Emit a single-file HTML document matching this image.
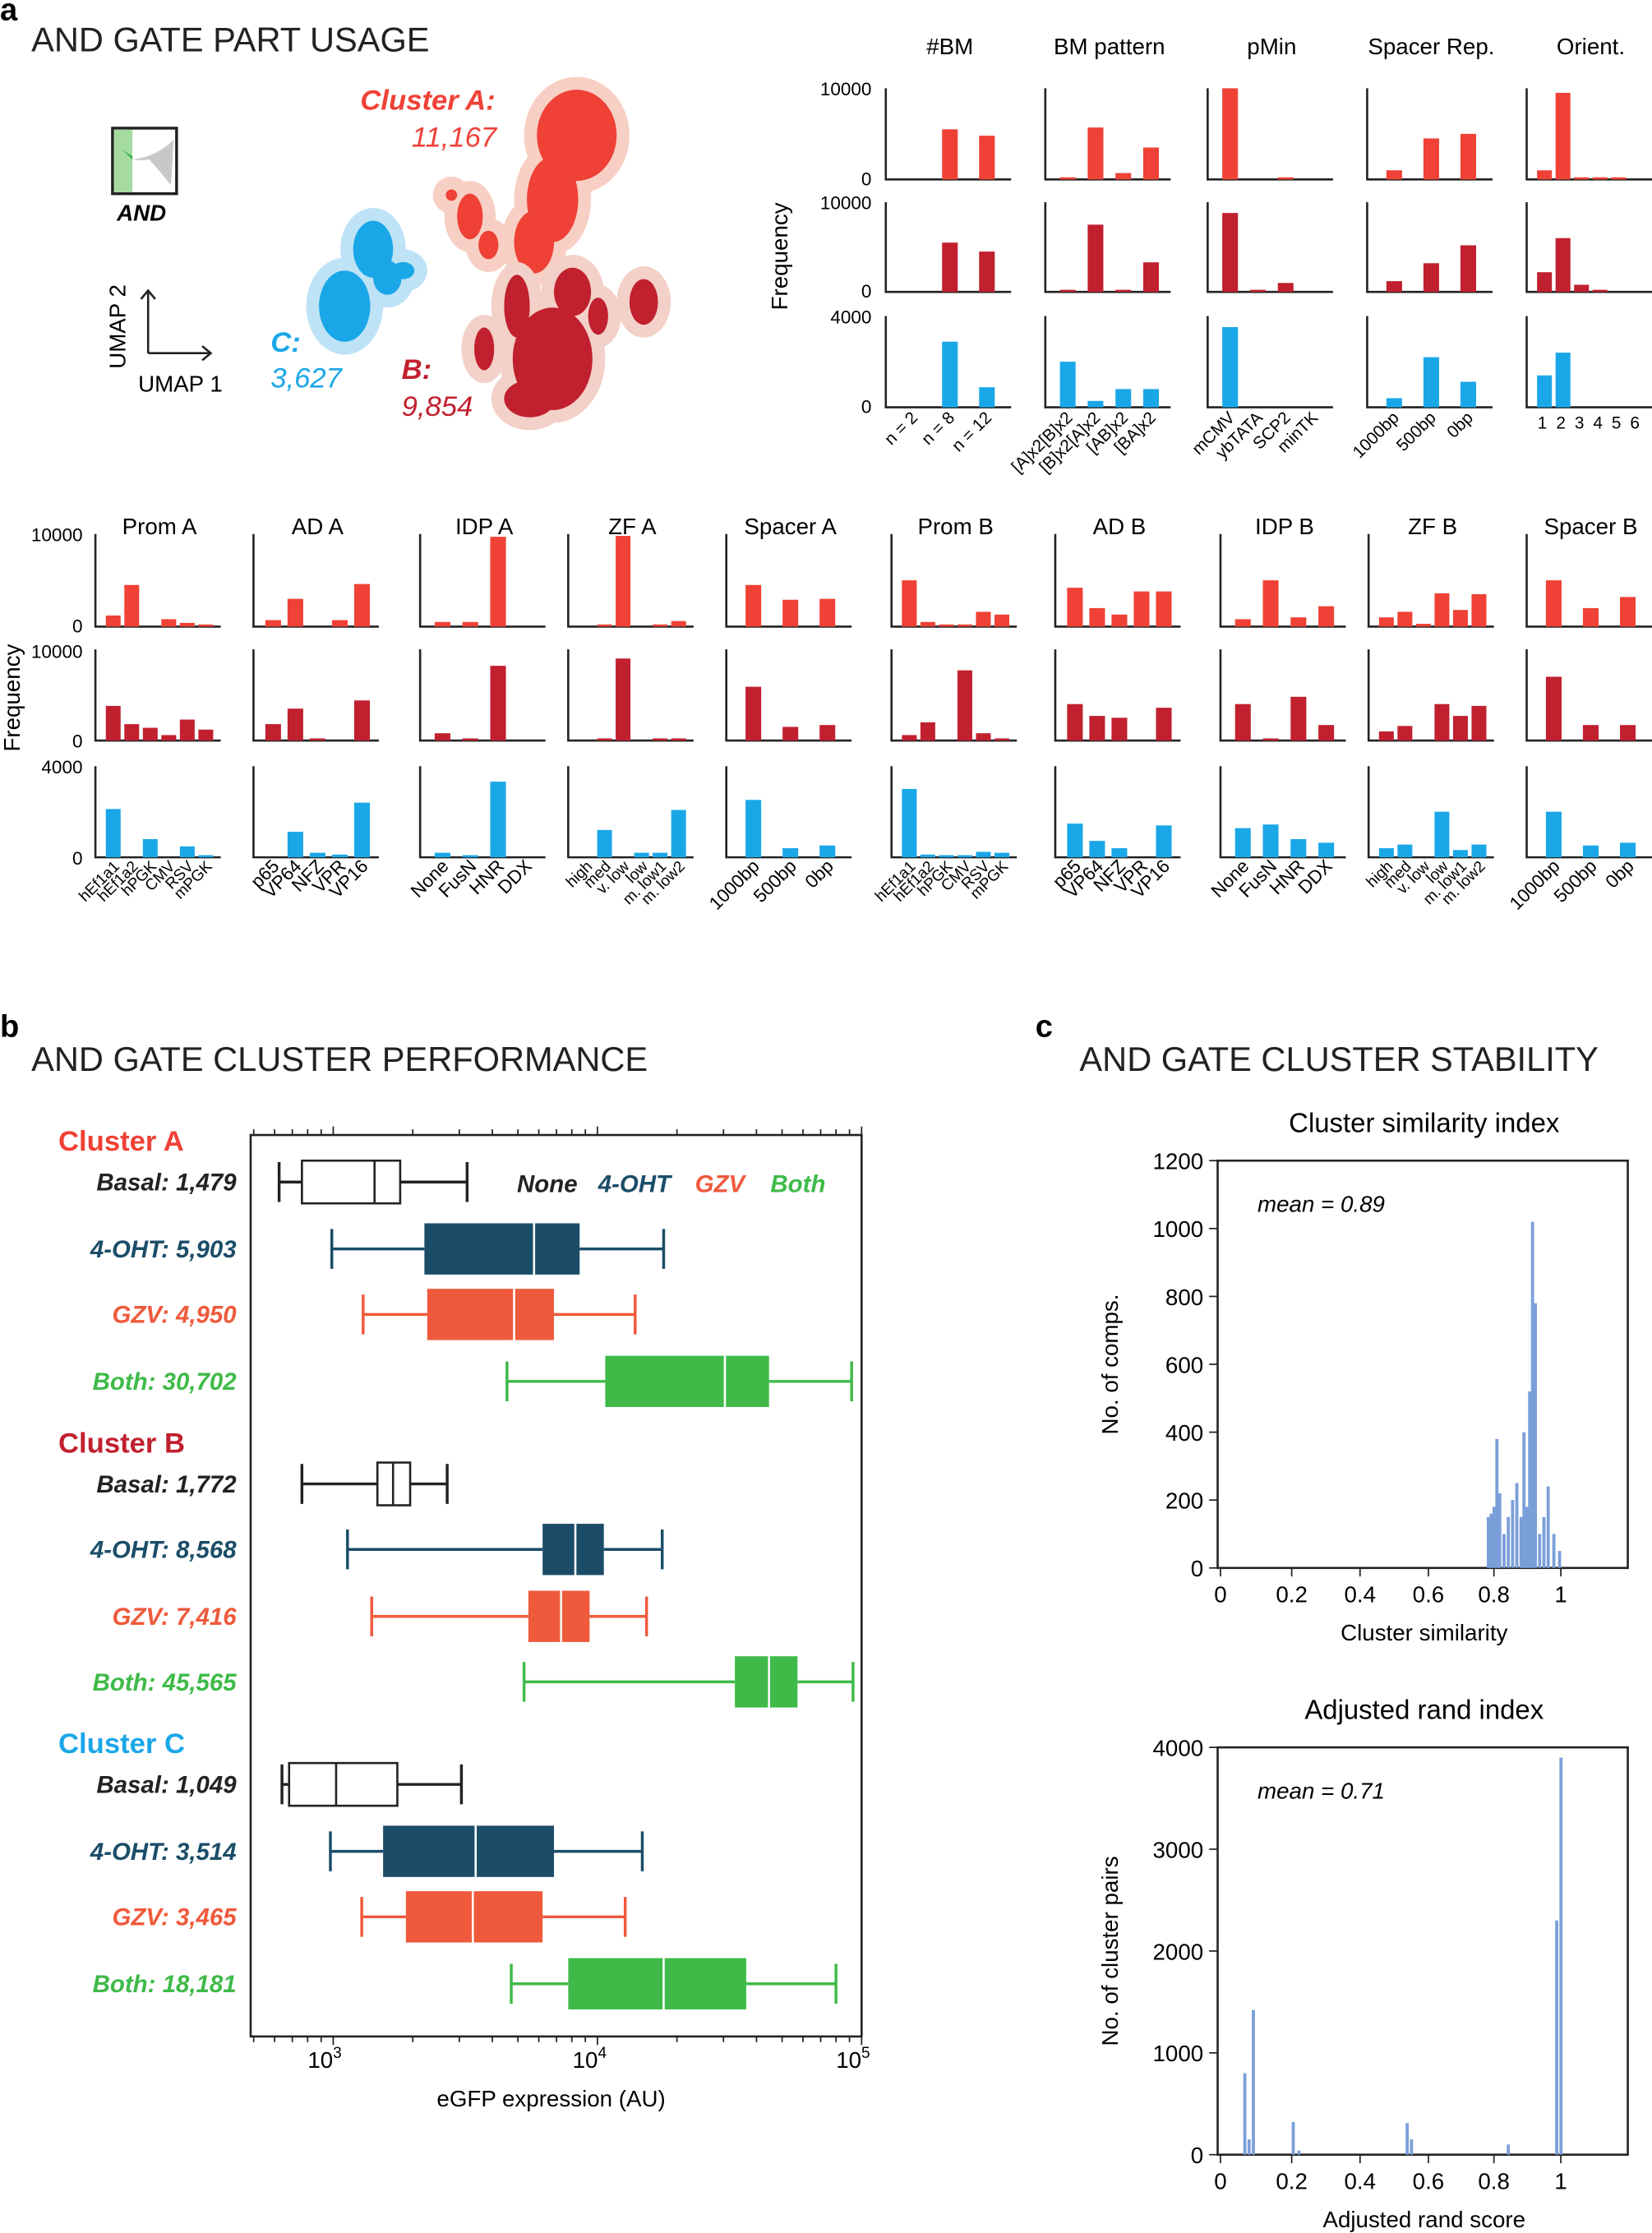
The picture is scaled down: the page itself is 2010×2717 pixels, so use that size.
<!DOCTYPE html>
<html><head><meta charset="utf-8"><style>
html,body{margin:0;padding:0;background:#fff}
svg{display:block}
text{font-family:"Liberation Sans",sans-serif}
</style></head><body>
<svg id="s" xmlns="http://www.w3.org/2000/svg" width="2010" height="2717" viewBox="0 0 1160 1568" preserveAspectRatio="none">
<rect width="1160" height="1568" fill="#fff"/>
<text x="0" y="14" font-size="22" font-weight="bold">a</text>
<text x="22" y="36" font-size="24" fill="#222">AND GATE PART USAGE</text>
<text x="0" y="728" font-size="22" font-weight="bold">b</text>
<text x="22" y="752" font-size="24" fill="#222">AND GATE CLUSTER PERFORMANCE</text>
<text x="727" y="728" font-size="22" font-weight="bold">c</text>
<text x="758" y="752" font-size="24" fill="#222">AND GATE CLUSTER STABILITY</text>
<rect x="79" y="90" width="45" height="46" fill="#fff" stroke="#222" stroke-width="2"/>
<rect x="80" y="91" width="13" height="44" fill="#a6dba0"/>
<path d="M93,112 Q110,110 122,98 L120,130 Q112,120 105,112 Q98,113 93,112Z" fill="#c8c8c8"/>
<path d="M86,105 L93,110 L93,112Z" fill="#2aa84a"/>
<text x="82" y="155" font-size="16" font-weight="bold" font-style="italic">AND</text>
<path d="M104,248 L104,204 M99,210 L104,204 L109,210 M104,248 L148,248 M142,243 L148,248 L142,253" stroke="#222" stroke-width="1.5" fill="none"/>
<text x="88" y="259" font-size="16" transform="rotate(-90 88 259)">UMAP 2</text>
<text x="97" y="275" font-size="16">UMAP 1</text>
<g id="umap"></g>
<text x="253" y="77" font-size="20" font-weight="bold" font-style="italic" fill="#ef4136">Cluster A:</text>
<text x="289" y="103" font-size="20" font-style="italic" fill="#ef4136">11,167</text>
<text x="190" y="247" font-size="20" font-weight="bold" font-style="italic" fill="#1aa7e8">C:</text>
<text x="190" y="272" font-size="20" font-style="italic" fill="#1aa7e8">3,627</text>
<text x="282" y="266" font-size="20" font-weight="bold" font-style="italic" fill="#c1202f">B:</text>
<text x="282" y="292" font-size="20" font-style="italic" fill="#c1202f">9,854</text>
<g id="g"></g>
</svg>
<script>
(function(){
var g=document.getElementById('g'),u=document.getElementById('umap');
var NS='http://www.w3.org/2000/svg';
function el(p,t,a,txt){var e=document.createElementNS(NS,t);for(var k in a)e.setAttribute(k,a[k]);if(txt!==undefined)e.textContent=txt;p.appendChild(e);return e;}
var RA='#ef4136',RB='#c1202f',CC='#1aa7e8';
function blobs(list,halo,col){list.forEach(function(b){el(u,'ellipse',{cx:b[0],cy:b[1],rx:b[2]+9,ry:b[3]+9,fill:halo});});
list.forEach(function(b){el(u,'ellipse',{cx:b[0],cy:b[1],rx:b[2],ry:b[3],fill:col});});}
blobs([[405,95,28,32],[388,140,18,30],[375,170,14,22],[330,152,9,16],[343,172,7,10],[317,137,4,4]],'#f8cfc4',RA);
blobs([[388,252,28,36],[363,215,9,22],[402,205,13,17],[452,212,10,16],[340,245,7,15],[372,280,18,13],[420,222,7,13]],'#f3d0c8',RB);
blobs([[242,215,18,25],[262,175,14,20],[272,195,10,12],[283,190,8,6]],'#bfe3f6',CC);
function panel(x,y0,base,vals,col,w){var W=w||90;el(g,'path',{d:'M'+x+','+y0+' L'+x+','+base+' L'+(x+W)+','+base,stroke:'#222','stroke-width':1.5,fill:'none'});
var n=vals.length,step=(W-10)/n,bw=Math.min(11,step*0.8);
vals.forEach(function(v,i){if(v<=0)return;var h=Math.max(1.5,v*(base-y0));el(g,'rect',{x:x+6+i*step+(step-bw)/2,y:base-h,width:bw,height:h,fill:col});});}
var cols=[RA,RB,CC];
var tp=[[622,'#BM',[[0,0.55,0.48],[0,0.55,0.45],[0,0.72,0.22]],['n = 2','n = 8','n = 12']],
[734,'BM pattern',[[0.01,0.57,0.07,0.35],[0.01,0.75,0.01,0.33],[0.5,0.07,0.2,0.2]],['[A]x2[B]x2','[B]x2[A]x2','[AB]x2','[BA]x2']],
[848,'pMin',[[1,0,0.02,0],[0.88,0.02,0.1,0],[0.88,0,0,0]],['mCMV','ybTATA','SCP2','minTK']],
[960,'Spacer Rep.',[[0.1,0.45,0.5],[0.12,0.32,0.52],[0.1,0.55,0.28]],['1000bp','500bp','0bp']],
[1072,'Orient.',[[0.1,0.95,0.02,0.02,0.01,0],[0.22,0.6,0.08,0.02,0,0],[0.35,0.6,0,0,0,0]],null]];
var trows=[[62,126],[142,205],[222,286]];
tp.forEach(function(p){el(g,'text',{x:p[0]+45,y:38,'font-size':16,'text-anchor':'middle'},p[1]);
p[2].forEach(function(v,r){panel(p[0],trows[r][0],trows[r][1],v,cols[r],88);});
if(p[3]){var n=p[3].length,step=78/n;p[3].forEach(function(l,i){var xx=p[0]+6+i*step+step/2+4;el(g,'text',{x:xx,y:294,'font-size':12,'text-anchor':'end',transform:'rotate(-45 '+xx+' 294)'},l);});}
else{['1','2','3','4','5','6'].forEach(function(l,i){el(g,'text',{x:p[0]+11+i*13,y:301,'font-size':12,'text-anchor':'middle'},l);});}});
[['10000',67],['0',130],['10000',147],['0',209],['4000',227],['0',290]].forEach(function(t){el(g,'text',{x:612,y:t[1],'font-size':13,'text-anchor':'end'},t[0]);});
el(g,'text',{x:553,y:180,'font-size':16,'text-anchor':'middle',transform:'rotate(-90 553 180)'},'Frequency');
var mid=[[67,'Prom A',[[0.12,0.45,0,0.08,0.04,0.02],[0.38,0.18,0.14,0.06,0.23,0.12],[0.53,0,0.2,0,0.12,0.02]],['hEf1a1','hEf1a2','hPGK','CMV','RSV','mPGK']],
[178,'AD A',[[0.07,0.3,0,0.07,0.46],[0.18,0.35,0.02,0,0.44],[0,0.28,0.05,0.03,0.6]],['p65','VP64','NFZ','VPR','VP16']],
[295,'IDP A',[[0.05,0.05,0.97,0],[0.08,0.02,0.82,0],[0.05,0.02,0.83,0]],['None','FusN','HNR','DDX']],
[399,'ZF A',[[0,0.02,0.98,0,0.02,0.06],[0,0.02,0.9,0,0.02,0.02],[0,0.3,0,0.05,0.05,0.52]],['high','med','v. low','low','m. low1','m. low2']],
[510,'Spacer A',[[0.45,0.29,0.3],[0.59,0.15,0.17],[0.63,0.1,0.13]],['1000bp','500bp','0bp']],
[626,'Prom B',[[0.5,0.05,0.02,0.02,0.16,0.13],[0.06,0.2,0,0.77,0.08,0.02],[0.75,0.03,0.02,0.02,0.06,0.05]],['hEf1a1','hEf1a2','hPGK','CMV','RSV','mPGK']],
[741,'AD B',[[0.42,0.2,0.13,0.38,0.38],[0.4,0.27,0.25,0,0.36],[0.37,0.18,0.1,0,0.35]],['p65','VP64','NFZ','VPR','VP16']],
[857,'IDP B',[[0.08,0.5,0.1,0.22],[0.4,0.02,0.48,0.17],[0.32,0.36,0.2,0.16]],['None','FusN','HNR','DDX']],
[961,'ZF B',[[0.1,0.16,0.03,0.36,0.18,0.35],[0.1,0.16,0,0.4,0.27,0.38],[0.1,0.14,0,0.5,0.08,0.14]],['high','med','v. low','low','m. low1','m. low2']],
[1072,'Spacer B',[[0.5,0.2,0.32],[0.7,0.17,0.17],[0.5,0.13,0.16]],['1000bp','500bp','0bp']]];
var mrows=[[375,440],[456,520],[538,602]];
mid.forEach(function(p){el(g,'text',{x:p[0]+45,y:375,'font-size':16,'text-anchor':'middle'},p[1]);
p[2].forEach(function(v,r){panel(p[0],mrows[r][0],mrows[r][1],v,cols[r],88);});
var n=p[3].length,step=78/n,fs=n>5?11:13;p[3].forEach(function(l,i){var xx=p[0]+6+i*step+step/2+5;el(g,'text',{x:xx,y:609,'font-size':fs,'text-anchor':'end',transform:'rotate(-45 '+xx+' 609)'},l);});});
[['10000',380],['0',444],['10000',462],['0',525],['4000',543],['0',607]].forEach(function(t){el(g,'text',{x:58,y:t[1],'font-size':13,'text-anchor':'end'},t[0]);});
el(g,'text',{x:14,y:490,'font-size':16,'text-anchor':'middle',transform:'rotate(-90 14 490)'},'Frequency');
el(g,'rect',{x:176,y:797,width:429,height:633,fill:'none',stroke:'#222','stroke-width':1.5});
function lx(v){return 234+(Math.log10(v)-3)*185.5;}
for(var d=2;d<=5;d++)for(var m=1;m<10;m++){var v=m*Math.pow(10,d);var x=lx(v);if(x<177||x>605)continue;var L=(m==1)?6:4;
el(g,'line',{x1:x,x2:x,y1:797,y2:797-L,stroke:'#222','stroke-width':1});el(g,'line',{x1:x,x2:x,y1:1430,y2:1430+L,stroke:'#222','stroke-width':1});}
[['3',234],['4',420],['5',605]].forEach(function(t){var e=el(g,'text',{x:t[1]-6,y:1452,'font-size':16,'text-anchor':'middle'},'10');el(e,'tspan',{dy:-7,'font-size':11},t[0]);});
el(g,'text',{x:387,y:1479,'font-size':16,'text-anchor':'middle'},'eGFP expression (AU)');
var TEAL='#1b4d68',OR='#ef5a3c',GR='#3fba49';
var bx=[[830,[196,212,263,281,328],'#222',0,'Basal: 1,479'],[877,[233,298,375,407,466],TEAL,1,'4-OHT: 5,903'],[923,[255,300,361,389,446],OR,1,'GZV: 4,950'],[970,[356,425,509,540,598],GR,1,'Both: 30,702'],
[1042,[212,265,276,288,314],'#222',0,'Basal: 1,772'],[1088,[244,381,404,424,465],TEAL,1,'4-OHT: 8,568'],[1135,[261,371,394,414,454],OR,1,'GZV: 7,416'],[1181,[368,516,540,560,599],GR,1,'Both: 45,565'],
[1253,[198,203,236,279,324],'#222',0,'Basal: 1,049'],[1300,[232,269,334,389,451],TEAL,1,'4-OHT: 3,514'],[1346,[254,285,332,381,439],OR,1,'GZV: 3,465'],[1393,[359,399,466,524,587],GR,1,'Both: 18,181']];
bx.forEach(function(b){var y=b[0],q=b[1],c=b[2],h=b[3]?18:15;
el(g,'path',{d:'M'+q[0]+','+y+' L'+q[1]+','+y+' M'+q[3]+','+y+' L'+q[4]+','+y+' M'+q[0]+','+(y-14)+' L'+q[0]+','+(y+14)+' M'+q[4]+','+(y-14)+' L'+q[4]+','+(y+14),stroke:c,'stroke-width':2,fill:'none'});
el(g,'rect',{x:q[1],y:y-h,width:q[3]-q[1],height:2*h,fill:b[3]?c:'#fff',stroke:b[3]?'none':c,'stroke-width':1.5});
el(g,'line',{x1:q[2],x2:q[2],y1:y-h,y2:y+h,stroke:b[3]?'#fff':c,'stroke-width':1.5});
el(g,'text',{x:166,y:y+6,'font-size':17,'font-weight':'bold','font-style':'italic','text-anchor':'end',fill:c},b[4]);});
[['Cluster A',808,RA],['Cluster B',1020,RB],['Cluster C',1231,CC]].forEach(function(t){el(g,'text',{x:41,y:t[1],'font-size':20,'font-weight':'bold',fill:t[2]},t[0]);});
[['None',363,'#222'],['4-OHT',420,TEAL],['GZV',488,OR],['Both',541,GR]].forEach(function(t){el(g,'text',{x:t[1],y:837,'font-size':17,'font-weight':'bold','font-style':'italic',fill:t[2]},t[0]);});
function hist(y0,y1,maxv,ticks,title,ytitle,xtitle,mean,bars){
el(g,'text',{x:1000,y:y0-20,'font-size':19,'text-anchor':'middle'},title);
el(g,'rect',{x:855,y:y0,width:288,height:y1-y0,fill:'none',stroke:'#222','stroke-width':1.5});
ticks.forEach(function(t){var y=y1-t/maxv*(y1-y0);el(g,'line',{x1:849,x2:855,y1:y,y2:y,stroke:'#222'});el(g,'text',{x:845,y:y+6,'font-size':16,'text-anchor':'end'},t);});
[['0',857],['0.2',907],['0.4',955],['0.6',1003],['0.8',1049],['1',1096]].forEach(function(t){el(g,'line',{x1:t[1],x2:t[1],y1:y1,y2:y1+6,stroke:'#222'});el(g,'text',{x:t[1],y:y1+24,'font-size':16,'text-anchor':'middle'},t[0]);});
el(g,'text',{x:1000,y:y1+51,'font-size':16,'text-anchor':'middle'},xtitle);
el(g,'text',{x:785,y:(y0+y1)/2,'font-size':16,'text-anchor':'middle',transform:'rotate(-90 785 '+(y0+y1)/2+')'},ytitle);
el(g,'text',{x:883,y:y0+36,'font-size':16,'font-style':'italic'},mean);
bars.forEach(function(b){var h=b[1]/maxv*(y1-y0);el(g,'rect',{x:b[0]-1,y:y1-h,width:2.2,height:h,fill:'#7b9fd9'});});}
hist(815,1101,1200,[0,200,400,600,800,1000,1200],'Cluster similarity index','No. of comps.','Cluster similarity','mean = 0.89',
[[1045,150],[1047,160],[1049,180],[1051,380],[1053,220],[1056,100],[1059,150],[1062,200],[1065,250],[1068,150],[1070,400],[1072,180],[1074,520],[1076,1020],[1078,780],[1081,100],[1084,150],[1087,240],[1091,100],[1095,50]]);
hist(1227,1513,4000,[0,1000,2000,3000,4000],'Adjusted rand index','No. of cluster pairs','Adjusted rand score','mean = 0.71',
[[874,800],[877,150],[880,1420],[908,320],[912,40],[988,310],[991,150],[1059,100],[1093,2300],[1096,3900]]);
})();
</script>
</body></html>
